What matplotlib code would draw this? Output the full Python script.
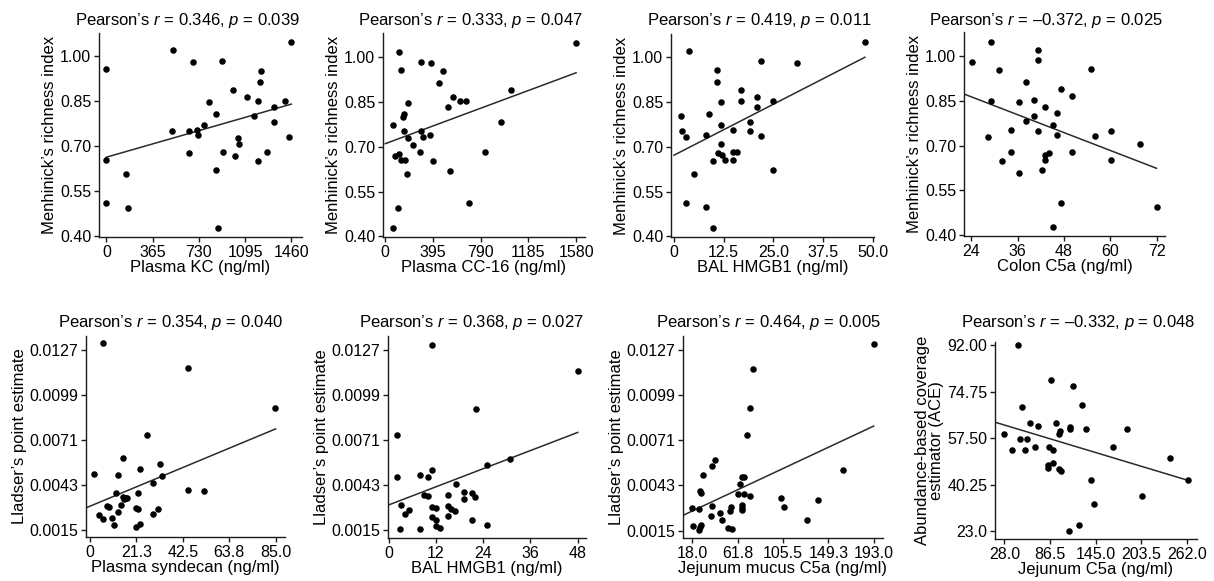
import numpy as np
import matplotlib
matplotlib.use("Agg")
import matplotlib.pyplot as plt
import matplotlib.transforms as mtransforms

plt.rcParams.update({
    "font.family": "Liberation Sans",
    "mathtext.fontset": "custom",
    "mathtext.rm": "Liberation Sans",
    "mathtext.it": "Liberation Sans:italic",
    "font.size": 12,
    "axes.linewidth": 1.0,
    "xtick.major.width": 1.0,
    "ytick.major.width": 1.0,
    "xtick.major.size": 3.5,
    "ytick.major.size": 3.5,
    "xtick.labelsize": 11.5,
    "ytick.labelsize": 11.5,
})

# ── data ──────────────────────────────────────────────────────────────────────
kc_x = [0, 523, 686, 913, 1460, 1220, 1209, 1000, 1111, 1196, 1407, 1325, 810, 869,
        1169, 1325, 520, 655, 713, 768, 723, 1037, 1043, 1439, 652, 921, 1016, 1267,
        1198, 863, 0, 153, 0, 174, 884]
kc_y = [0.958, 1.020, 0.980, 0.986, 1.048, 0.953, 0.913, 0.889, 0.864, 0.850, 0.852,
        0.831, 0.847, 0.809, 0.800, 0.782, 0.750, 0.752, 0.756, 0.770, 0.737, 0.729,
        0.707, 0.732, 0.678, 0.680, 0.668, 0.681, 0.650, 0.620, 0.656, 0.609, 0.510,
        0.496, 0.428]

cc16_x = [61, 102, 113, 130, 63, 83, 113, 130, 165, 179, 143, 152, 187, 152, 187, 229,
          289, 295, 298, 309, 367, 375, 391, 447, 480, 521, 538, 557, 620, 667, 695,
          822, 962, 1039, 1580]
cc16_y = [0.428, 0.496, 1.018, 0.956, 0.771, 0.669, 0.676, 0.654, 0.654, 0.608, 0.800,
          0.808, 0.847, 0.751, 0.730, 0.706, 0.681, 0.984, 0.751, 0.732, 0.738, 0.980,
          0.651, 0.913, 0.953, 0.832, 0.620, 0.865, 0.851, 0.851, 0.511, 0.682, 0.783,
          0.890, 1.047]

hmgb1_x = [1.8, 1.9, 2.9, 3.9, 5.0, 2.9, 8.0, 8.9, 8.0, 9.9, 9.9, 10.9, 10.8, 11.0, 11.9,
           11.8, 11.9, 12.0, 12.9, 14.9, 14.9, 14.9, 15.9, 16.9, 16.9, 19.0, 19.0, 20.9,
           21.0, 21.9, 21.9, 24.9, 24.8, 31.0, 48.0]
hmgb1_y = [0.802, 0.754, 0.732, 1.022, 0.610, 0.511, 0.739, 0.811, 0.497, 0.653, 0.429,
           0.958, 0.916, 0.679, 0.849, 0.773, 0.708, 0.672, 0.656, 0.756, 0.682, 0.657,
           0.682, 0.892, 0.855, 0.784, 0.752, 0.866, 0.833, 0.988, 0.735, 0.853, 0.621,
           0.982, 1.050]

colon_x = [24.3, 29.2, 31.2, 29.2, 28.2, 31.9, 34.4, 34.3, 36.3, 36.3, 38.3, 38.3, 40.3,
           40.3, 41.3, 41.3, 41.3, 42.3, 43.2, 43.2, 43.2, 44.2, 45.2, 45.2, 46.2, 46.2,
           47.2, 47.2, 50.2, 50.2, 55.1, 56.0, 60.1, 60.1, 67.6, 72.0]
colon_y = [0.979, 1.047, 0.953, 0.850, 0.728, 0.649, 0.680, 0.752, 0.846, 0.607, 0.912,
           0.782, 0.851, 0.799, 1.018, 0.984, 0.749, 0.618, 0.830, 0.667, 0.652, 0.676,
           0.769, 0.427, 0.808, 0.736, 0.888, 0.509, 0.864, 0.680, 0.956, 0.732, 0.750,
           0.653, 0.706, 0.496]

synd_x = [2.0, 6.0, 4.0, 6.1, 7.9, 8.9, 10.1, 11.1, 11.9, 13.0, 13.0, 14.2, 15.0, 15.3,
          15.6, 16.5, 17.1, 20.9, 21.1, 21.8, 22.0, 22.9, 22.9, 25.9, 28.8, 29.1, 31.1,
          31.9, 33.0, 45.0, 45.0, 52.0, 84.8]
synd_y = [0.00499, 0.01315, 0.00243, 0.00220, 0.00299, 0.00295, 0.00223, 0.00183,
          0.00377, 0.00489, 0.00262, 0.00305, 0.00599, 0.00357, 0.00344, 0.00351,
          0.00349, 0.00165, 0.00289, 0.00377, 0.00282, 0.00185, 0.00530, 0.00743,
          0.00441, 0.00251, 0.00278, 0.00559, 0.00487, 0.01158, 0.00398, 0.00390,
          0.00913]

bal_x = [2.1, 2.1, 3.1, 2.9, 4.0, 5.1, 8.0, 8.0, 9.0, 9.9, 10.0, 11.0, 11.0, 11.0, 11.0,
         12.0, 12.0, 12.0, 13.0, 15.0, 15.0, 15.1, 15.9, 16.8, 17.0, 19.0, 19.0, 21.1,
         22.0, 21.1, 22.1, 25.0, 25.0, 30.9, 48.0]
bal_y = [0.00741, 0.00481, 0.00307, 0.00161, 0.00254, 0.00278, 0.00493, 0.00159,
         0.00371, 0.00363, 0.00481, 0.01307, 0.00526, 0.00295, 0.00233, 0.00291,
         0.00212, 0.00177, 0.00165, 0.00373, 0.00305, 0.00243, 0.00285, 0.00274,
         0.00437, 0.00392, 0.00344, 0.00384, 0.00357, 0.00216, 0.00908, 0.00555,
         0.00183, 0.00594, 0.01140]

jmucus_x = [17.4, 18.3, 24.1, 24.1, 25.4, 26.7, 25.8, 26.7, 28.7, 35.8, 37.4, 37.4, 39.7,
            44.8, 46.8, 52.6, 54.5, 55.8, 56.4, 62.2, 63.9, 66.4, 66.4, 66.4, 66.4, 68.1,
            68.1, 70.3, 73.2, 73.5, 76.4, 103.6, 106.5, 129.1, 138.8, 163.0, 193.0]
jmucus_y = [0.00290, 0.00179, 0.00282, 0.00156, 0.00171, 0.00183, 0.00397, 0.00382,
            0.00493, 0.00243, 0.00304, 0.00553, 0.00590, 0.00259, 0.00216, 0.00166,
            0.00271, 0.00298, 0.00162, 0.00374, 0.00438, 0.00306, 0.00290, 0.00277,
            0.00481, 0.00481, 0.00374, 0.00740, 0.00906, 0.00364, 0.01149, 0.00355,
            0.00296, 0.00214, 0.00343, 0.00526, 0.01303]

jc5a_x = [28.0, 37.8, 45.1, 47.7, 50.3, 54.6, 57.1, 60.9, 67.8, 71.2, 83.6, 84.0, 85.3,
          87.5, 90.5, 90.9, 93.9, 98.2, 99.0, 98.2, 100.8, 110.2, 111.9, 112.3, 115.8,
          123.4, 127.2, 132.8, 138.4, 142.2, 167.0, 185.0, 203.8, 239.8, 262.9]
jc5a_y = [59.1, 53.1, 91.9, 57.0, 69.0, 53.1, 57.0, 63.0, 54.1, 61.9, 47.4, 46.2, 54.1,
          78.9, 53.1, 48.3, 63.0, 59.1, 60.0, 45.9, 45.1, 23.1, 61.8, 61.0, 77.0, 25.1,
          69.8, 61.0, 42.1, 33.1, 54.1, 61.0, 36.1, 50.1, 42.1]

# regression line end points (x0, x1, y0, y1) as drawn in the reference
kc_fit     = (0, 1460, 0.664, 0.841)
cc16_fit   = (0, 1580, 0.710, 0.947)
hmgb1_fit  = (0, 48, 0.672, 1.000)
colon_fit  = (22.1, 72, 0.872, 0.624)
synd_fit   = (-1.8, 85, 0.00287, 0.00780)
bal_fit    = (0, 48, 0.00309, 0.00760)
jmucus_fit = (9.0, 193, 0.00245, 0.00797)
jc5a_fit   = (16.0, 262, 63.4, 41.9)

titles = [
    ("0.346", "0.039"), ("0.333", "0.047"), ("0.419", "0.011"), ("\u20130.372", "0.025"),
    ("0.354", "0.040"), ("0.368", "0.027"), ("0.464", "0.005"), ("\u20130.332", "0.048"),
]

menh_ticks = [0.40, 0.55, 0.70, 0.85, 1.00]
menh_labels = ["0.40", "0.55", "0.70", "0.85", "1.00"]
ll_ticks = [0.0015, 0.0043, 0.0071, 0.0099, 0.0127]
ll_labels = ["0.0015", "0.0043", "0.0071", "0.0099", "0.0127"]
ace_ticks = [23.0, 40.25, 57.50, 74.75, 92.00]
ace_labels = ["23.0", "40.25", "57.50", "74.75", "92.00"]

# (x, y, fit, xlabel, ylabel, xticks, xticklabels, yticks, yticklabels,
#  xlim, ylim, axes box in pixels: left, right, top, bottom)
panels = [
    (kc_x, kc_y, kc_fit, "Plasma KC (ng/ml)", "Menhinick\u2019s richness index",
     [0, 365, 730, 1095, 1460], ["0", "365", "730", "1095", "1460"],
     menh_ticks, menh_labels, (-58, 1544), (0.398, 1.078), (99, 302, 33, 237)),
    (cc16_x, cc16_y, cc16_fit, "Plasma CC-16 (ng/ml)", "Menhinick\u2019s richness index",
     [0, 395, 790, 1185, 1580], ["0", "395", "790", "1185", "1580"],
     menh_ticks, menh_labels, (-19, 1654), (0.398, 1.08), (383, 585, 33, 237)),
    (hmgb1_x, hmgb1_y, hmgb1_fit, "BAL HMGB1 (ng/ml)", "Menhinick\u2019s richness index",
     [0, 12.5, 25, 37.5, 50], ["0", "12.5", "25.0", "37.5", "50.0"],
     menh_ticks, menh_labels, (-0.75, 50.3), (0.398, 1.078), (671, 874, 34, 237)),
    (colon_x, colon_y, colon_fit, "Colon C5a (ng/ml)", "Menhinick\u2019s richness index",
     [24, 36, 48, 60, 72], ["24", "36", "48", "60", "72"],
     menh_ticks, menh_labels, (22.1, 74.2), (0.398, 1.079), (964, 1165, 32, 236)),
    (synd_x, synd_y, synd_fit, "Plasma syndecan (ng/ml)", "Lladser\u2019s point estimate",
     [0, 21.3, 42.5, 63.8, 85.0], ["0", "21.3", "42.5", "63.8", "85.0"],
     ll_ticks, ll_labels, (-1.8, 89.3), (0.00105, 0.0136), (86, 285, 336, 537)),
    (bal_x, bal_y, bal_fit, "BAL HMGB1 (ng/ml)", "Lladser\u2019s point estimate",
     [0, 12, 24, 36, 48], ["0", "12", "24", "36", "48"],
     ll_ticks, ll_labels, (-0.2, 50.1), (0.00103, 0.0136), (388, 586, 336, 538)),
    (jmucus_x, jmucus_y, jmucus_fit, "Jejunum mucus C5a (ng/ml)", "Lladser\u2019s point estimate",
     [18.0, 61.8, 105.5, 149.3, 193.0], ["18.0", "61.8", "105.5", "149.3", "193.0"],
     ll_ticks, ll_labels, (9.0, 202.0), (0.00105, 0.01354), (683, 883, 336, 538)),
    (jc5a_x, jc5a_y, jc5a_fit, "Jejunum C5a (ng/ml)",
     "Abundance-based coverage\nestimator (ACE)",
     [28.0, 86.5, 145.0, 203.5, 262.0], ["28.0", "86.5", "145.0", "203.5", "262.0"],
     ace_ticks, ace_labels, (16.0, 274.8), (20.0, 93.2), (995, 1197, 342, 539)),
]

W, H = 1214, 581
fig = plt.figure(figsize=(W / 100, H / 100), dpi=100)

for i, (x, y, fit, xl, yl, xt, xtl, yt, ytl, xlim, ylim, box) in enumerate(panels):
    left, right, top, bottom = box
    ax = fig.add_axes([left / W, 1 - bottom / H, (right - left) / W, (bottom - top) / H])
    ax.scatter(x, y, s=22, color="black", linewidths=0, zorder=3)
    x0, x1, y0, y1 = fit
    ax.plot([x0, x1], [y0, y1], color="#2a2a2a", linewidth=1.1, zorder=2)

    ax.set_xlim(*xlim)
    ax.set_ylim(*ylim)
    ax.set_xticks(xt)
    ax.set_xticklabels(xtl)
    ax.set_yticks(yt)
    ax.set_yticklabels(ytl)
    ax.spines["top"].set_visible(False)
    ax.spines["right"].set_visible(False)
    ax.tick_params(pad=2, colors="#1a1a1a", labelcolor="black")
    for s in ("left", "bottom"):
        ax.spines[s].set_color("#1a1a1a")

    ax.set_xlabel(xl, fontsize=12, labelpad=0)
    ax.set_ylabel(yl, fontsize=12, labelpad=2, linespacing=0.95)

    r, p = titles[i]
    title_y = 1 - (21 if i < 4 else 323) / H
    trans = mtransforms.blended_transform_factory(ax.transAxes, fig.transFigure)
    ax.text(0.99, title_y, f"Pearson\u2019s $r$ = {r}, $p$ = {p}", transform=trans,
            ha="right", va="center", fontsize=12, color="black")

fig.savefig("out.png", dpi=100)
